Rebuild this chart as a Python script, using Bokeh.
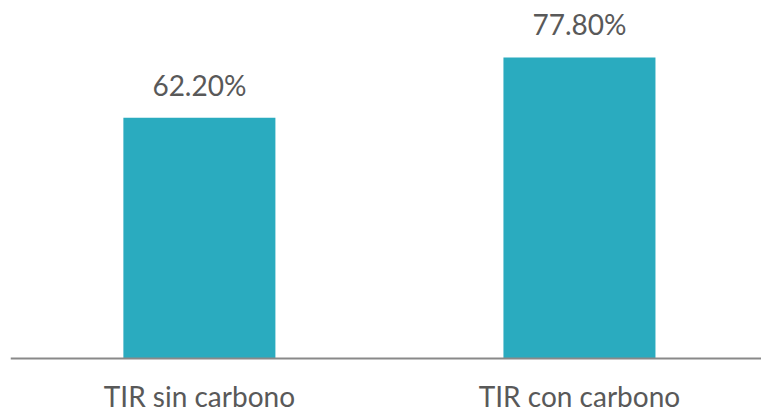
from bokeh.plotting import figure
from bokeh.models import Range1d, ColumnDataSource, Span
from bokeh.core.properties import value
from bokeh.embed import file_html
from bokeh.resources import INLINE

categories = ["TIR sin carbono", "TIR con carbono"]
values = [62.20, 77.80]
labels = [f"{v:.2f}%" for v in values]
xpos = list(range(len(categories)))

p = figure(width=761, height=411, output_backend="svg", toolbar_location=None,
           x_range=Range1d(-0.497, 1.479), y_range=Range1d(-13.7, 92.5),
           min_border_left=10, min_border_right=0, min_border_top=0, min_border_bottom=0)
p.outline_line_color = None
p.xgrid.visible = False
p.ygrid.visible = False
p.xaxis.visible = False
p.yaxis.visible = False

src = ColumnDataSource(dict(x=xpos, top=values, label=labels, cat=categories, zero=[0] * len(xpos)))
p.vbar(x="x", top="top", bottom=0, width=0.4, source=src, fill_color="#2AABBF", line_color=None)
p.text(x="x", y="top", text="label", source=src, y_offset=-33, text_align="center",
       text_baseline="alphabetic", text_font=value("Lato"), text_font_size="28px", text_color="#595959")
p.text(x="x", y="zero", text="cat", source=src, y_offset=38, text_align="center",
       text_baseline="alphabetic", text_font=value("Lato"), text_font_size="28px", text_color="#595959")

p.add_layout(Span(location=0, dimension="width", line_color="#898989", line_width=2))

open("out.html", "w").write(file_html(p, INLINE))
